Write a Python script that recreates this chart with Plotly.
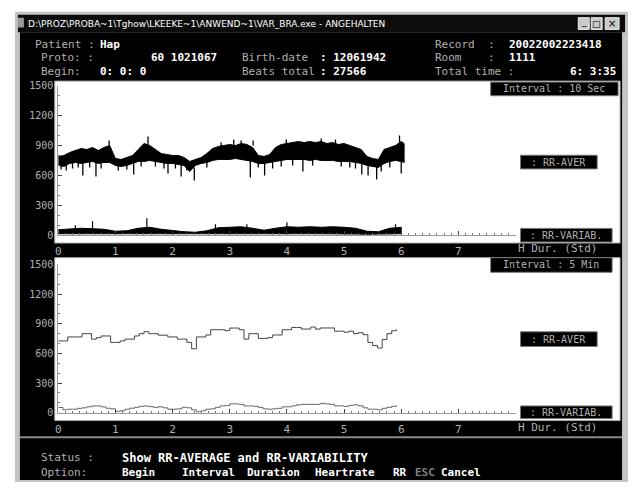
import plotly.graph_objects as go

W, H = 635, 489
def px(x): return x / W
def py(y): return 1 - y / H

# ---------------- data ----------------
hour_ticks = [0, 1, 2, 3, 4, 5, 6, 7]
hour_labels = ["0", "1", "2", "3", "4", "5", "6", "7"]
rr_ticks = [0, 300, 600, 900, 1200, 1500]
rr_labels = ["0", "300", "600", "900", "1200", "1500"]

# Top panel (10 s interval): envelope of RR-average, read every 0.1 h
band_t = [0.0, 0.1, 0.2, 0.3, 0.4, 0.5, 0.6, 0.7, 0.8, 0.9,
          1.0, 1.1, 1.2, 1.3, 1.4, 1.5, 1.6, 1.7, 1.8, 1.9,
          2.0, 2.1, 2.2, 2.3, 2.4, 2.5, 2.6, 2.7, 2.8, 2.9,
          3.0, 3.1, 3.2, 3.3, 3.4, 3.5, 3.6, 3.7, 3.8, 3.9,
          4.0, 4.1, 4.2, 4.3, 4.4, 4.5, 4.6, 4.7, 4.8, 4.9,
          5.0, 5.1, 5.2, 5.3, 5.4, 5.5, 5.6, 5.7, 5.8, 5.9, 6.0, 6.05]
avg_hi = [790, 800, 830, 850, 870, 860, 880, 850, 880, 900,
          770, 760, 780, 800, 860, 920, 900, 860, 820, 810,
          800, 800, 780, 740, 760, 780, 820, 870, 890, 900,
          910, 900, 920, 910, 880, 800, 790, 810, 880, 910,
          920, 930, 940, 930, 940, 930, 940, 920, 930, 910,
          920, 900, 880, 860, 790, 770, 760, 860, 880, 900, 940, 920]
avg_lo = [700, 690, 720, 730, 720, 730, 740, 720, 730, 730,
          700, 690, 700, 720, 740, 740, 750, 740, 730, 720,
          720, 710, 700, 640, 700, 720, 730, 750, 760, 760,
          760, 770, 760, 750, 740, 720, 720, 730, 740, 750,
          760, 760, 760, 760, 750, 760, 750, 750, 750, 740,
          740, 740, 730, 720, 700, 690, 680, 720, 740, 750, 740, 730]
# single beats leaving the band (time h, from, to)
spike_t = [0.05, 0.14, 0.25, 0.35, 0.43, 0.55, 0.66, 0.75, 0.89, 1.05, 1.20, 1.32,
           1.45, 1.57, 1.70, 1.85, 1.92, 2.05, 2.15, 2.25, 2.38, 2.60, 2.85, 3.07,
           3.20, 3.36, 3.41, 3.50, 3.61, 3.75, 3.90, 3.99, 4.10, 4.28, 4.45, 4.60,
           4.85, 4.95, 5.10, 5.20, 5.31, 5.42, 5.57, 5.65, 5.80, 5.97, 6.00]
spike_from = [720, 720, 740, 750, 740, 740, 740, 740, 880, 710, 710, 720,
              760, 900, 750, 740, 730, 730, 720, 710, 680, 740, 880, 890,
              900, 760, 900, 740, 740, 740, 760, 900, 770, 760, 770, 930,
              900, 760, 750, 740, 730, 720, 700, 700, 750, 920, 740]
spike_to = [660, 650, 670, 680, 600, 680, 590, 670, 950, 650, 660, 610,
            690, 990, 690, 670, 620, 670, 590, 650, 550, 680, 930, 960,
            950, 580, 950, 680, 600, 670, 690, 960, 700, 640, 700, 970,
            960, 690, 680, 670, 610, 600, 560, 640, 680, 1000, 620]

# Top panel: envelope of RR-variability, read every 0.2 h
var_t = [0.0, 0.2, 0.4, 0.6, 0.8, 1.0, 1.2, 1.4, 1.6, 1.8, 2.0, 2.2, 2.4, 2.6, 2.8, 3.0,
         3.2, 3.4, 3.6, 3.8, 4.0, 4.2, 4.4, 4.6, 4.8, 5.0, 5.2, 5.4, 5.6, 5.8, 6.0]
var_hi = [55, 60, 70, 65, 60, 40, 45, 70, 80, 60, 45, 35, 30, 45, 75, 80,
          85, 70, 50, 70, 85, 80, 85, 80, 85, 80, 70, 40, 35, 70, 80]
var_lo = [15, 10, 15, 15, 12, 10, 10, 15, 15, 12, 10, 8, 8, 10, 15, 15,
          15, 15, 12, 15, 15, 15, 15, 15, 15, 15, 12, 10, 8, 12, 15]
vspike_t = [0.30, 0.60, 1.55, 2.75, 3.30, 4.00, 5.90]
vspike_to = [100, 140, 170, 110, 110, 130, 110]

# Bottom panel (5 min interval)
interval_min = 5
avg_5min = [727, 727, 767, 767, 767, 800, 800, 745, 760, 777, 777, 712,
            712, 727, 745, 745, 777, 800, 820, 800, 800, 785, 785, 767,
            767, 745, 745, 712, 647, 767, 767, 787, 840, 840, 840, 830,
            857, 857, 840, 745, 800, 800, 752, 752, 760, 787, 787, 840,
            840, 863, 863, 847, 847, 867, 847, 858, 858, 858, 825, 825,
            815, 825, 800, 810, 790, 712, 680, 655, 740, 800, 830, 845]
var_5min = [53, 30, 36, 36, 45, 50, 60, 69, 69, 60, 46, 40,
            15, 20, 36, 46, 55, 65, 69, 62, 55, 60, 50, 36,
            36, 40, 55, 50, 30, 10, 20, 36, 40, 55, 69, 72,
            90, 90, 85, 69, 69, 65, 55, 40, 36, 40, 45, 60,
            60, 70, 80, 85, 85, 85, 85, 95, 90, 85, 70, 69,
            65, 75, 80, 70, 50, 36, 36, 30, 45, 55, 65, 75]

# ---------------- figure ----------------
fig = go.Figure()

fig.add_trace(go.Scatter(x=band_t + band_t[::-1], y=avg_hi + avg_lo[::-1],
                         fill="toself", fillcolor="#000", mode="lines",
                         line=dict(color="#000", width=1), xaxis="x", yaxis="y",
                         hoverinfo="skip"))
sx, sy = [], []
for t, a, b in zip(spike_t, spike_from, spike_to):
    sx += [t, t, None]
    sy += [a, b, None]
fig.add_trace(go.Scatter(x=sx, y=sy, mode="lines", line=dict(color="#000", width=1.3),
                         xaxis="x", yaxis="y", hoverinfo="skip"))
fig.add_trace(go.Scatter(x=var_t + var_t[::-1], y=var_hi + var_lo[::-1],
                         fill="toself", fillcolor="#000", mode="lines",
                         line=dict(color="#000", width=1), xaxis="x", yaxis="y",
                         hoverinfo="skip"))
vx, vy = [], []
for t, b in zip(vspike_t, vspike_to):
    vx += [t, t, None]
    vy += [20, b, None]
fig.add_trace(go.Scatter(x=vx, y=vy, mode="lines", line=dict(color="#000", width=1.2),
                         xaxis="x", yaxis="y", hoverinfo="skip"))

t5 = [i * interval_min / 60 for i in range(len(avg_5min))]
fig.add_trace(go.Scatter(x=t5, y=avg_5min, mode="lines", line=dict(color="#444", width=1, shape="hv"),
                         xaxis="x2", yaxis="y2", hoverinfo="skip"))
fig.add_trace(go.Scatter(x=t5, y=var_5min, mode="lines", line=dict(color="#666", width=1, shape="hv"),
                         xaxis="x2", yaxis="y2", hoverinfo="skip"))

MONO = "DejaVu Sans Mono"
GRAY = "#b0b0b0"
WHITE = "#ffffff"

def xax(anchor):
    return dict(domain=[px(55.5), px(515)], range=[0, 8], anchor=anchor,
                tickvals=hour_ticks, ticktext=hour_labels, showgrid=False, zeroline=False,
                showline=True, linecolor="#9a9a9a", linewidth=1,
                ticks="inside", ticklen=4, tickcolor="#444", tickwidth=1,
                minor=dict(dtick=0.125, ticks="inside", ticklen=2, tickcolor="#777"),
                tickfont=dict(family=MONO, size=11, color=GRAY), ticklabelstandoff=6,
                fixedrange=True)

def yax(anchor, y0, y1):
    return dict(domain=[py(y0), py(y1)], range=[0, 1500], anchor=anchor,
                tickvals=rr_ticks, ticktext=rr_labels, showgrid=False, zeroline=False,
                showline=True, linecolor="#9a9a9a", linewidth=1,
                ticks="inside", ticklen=4, tickcolor="#444",
                minor=dict(dtick=100, ticks="inside", ticklen=2, tickcolor="#777"),
                tickfont=dict(family=MONO, size=10, color=GRAY), ticklabelstandoff=2,
                fixedrange=True)

shapes = [
    dict(type="rect", xref="paper", yref="paper", x0=px(12), x1=px(628), y0=py(488), y1=py(6),
         fillcolor="#c4c4c4", line=dict(width=0), layer="below"),
    dict(type="rect", xref="paper", yref="paper", x0=px(15), x1=px(625), y0=py(27), y1=py(9),
         fillcolor="#0c0c0c", line=dict(width=0), layer="below"),
    dict(type="rect", xref="paper", yref="paper", x0=px(17), x1=px(622), y0=py(486), y1=py(27),
         fillcolor="#000", line=dict(width=0), layer="below"),
    dict(type="rect", xref="paper", yref="paper", x0=px(15), x1=px(21), y0=py(22), y1=py(12),
         fillcolor="#9a9a9a", line=dict(width=0), layer="below"),
    dict(type="rect", xref="paper", yref="paper", x0=px(52), x1=px(620), y0=py(243), y1=py(77),
         fillcolor="#fff", line=dict(color="#a8a8a8", width=1), layer="below"),
    dict(type="rect", xref="paper", yref="paper", x0=px(52), x1=px(620), y0=py(425), y1=py(258),
         fillcolor="#fff", line=dict(color="#a8a8a8", width=1), layer="below"),
    dict(type="line", xref="paper", yref="paper", x0=px(17), x1=px(622), y0=py(442), y1=py(442),
         line=dict(color="#8a8a8a", width=2)),
]
for bx0, bx1 in [(578, 589), (591, 602), (605, 619)]:
    shapes.append(dict(type="rect", xref="paper", yref="paper", x0=px(bx0), x1=px(bx1),
                       y0=py(24), y1=py(12), fillcolor="#c8c8c8",
                       line=dict(color="#eeeeee", width=1)))
boxes = [(490, 618, 78, 92), (490, 612, 258, 273),
         (520, 597, 153, 167), (520, 612, 228, 242),
         (520, 597, 334, 349), (520, 612, 410, 423)]
for x0, x1, y0, y1 in boxes:
    shapes.append(dict(type="rect", xref="paper", yref="paper", x0=px(x0), x1=px(x1),
                       y0=py(y1), y1=py(y0), fillcolor="#000",
                       line=dict(color="#777", width=1)))

ann = []
def txt(s, x, y, color=GRAY, size=11, bold=False, family=MONO, anchor="left"):
    ann.append(dict(text=("<b>%s</b>" % s) if bold else s, x=px(x), y=py(y), xref="paper", yref="paper",
                    xanchor=anchor, yanchor="middle", showarrow=False,
                    font=dict(family=family, size=size, color=color)))

txt("D:\\PROZ\\PROBA~1\\Tghow\\LKEEKE~1\\ANWEND~1\\VAR_BRA.exe - ANGEHALTEN", 23, 18,
    color=WHITE, size=9, family="DejaVu Sans")
txt("_", 583.5, 16, color="#000", size=9, family="DejaVu Sans", anchor="center")
txt("□", 596.5, 18, color="#000", size=9, family="DejaVu Sans", anchor="center")
txt("×", 612, 18, color="#000", size=10, family="DejaVu Sans", anchor="center")

txt("Patient :", 30, 39)
txt("Hap", 95, 39, WHITE, bold=True)
txt("Record  :", 432, 39)
txt("20022002223418", 506, 39, WHITE, bold=True)
txt("Proto: :", 36, 53)
txt("60 1021067", 147, 53, WHITE, bold=True)
txt("Birth-date", 238, 53)
txt(": 12061942", 316, 53, WHITE, bold=True)
txt("Room    :", 432, 53)
txt("1111", 506, 53, WHITE, bold=True)
txt("Begin:", 36, 67)
txt("0: 0: 0", 95, 67, WHITE, bold=True)
txt("Beats total", 238, 67)
txt(": 27566", 316, 67, WHITE, bold=True)
txt("Total time :", 432, 67)
txt("6: 3:35", 568, 67, WHITE, bold=True)

txt("Interval : 10 Sec", 554, 85, GRAY, size=10, anchor="center")
txt("Interval : 5 Min", 551, 265.5, GRAY, size=10, anchor="center")
txt(": RR-AVER", 558.5, 160, GRAY, size=10, anchor="center")
txt(": RR-VARIAB.", 566, 235, GRAY, size=10, anchor="center")
txt(": RR-AVER", 558.5, 341.5, GRAY, size=10, anchor="center")
txt(": RR-VARIAB.", 566, 416.5, GRAY, size=10, anchor="center")

for yy in (249, 432):
    ann.append(dict(text="H Dur. (Std)", x=8, xref="x", y=py(yy), yref="paper", xanchor="left",
                    yanchor="middle", showarrow=False,
                    font=dict(family=MONO, size=11, color=GRAY)))

txt("Status :", 36, 463)
txt("Show RR-AVERAGE and RR-VARIABILITY", 118, 463, WHITE, size=12, bold=True)
txt("Option:", 36, 478)
txt("Begin", 118, 478, WHITE, bold=True)
txt("Interval", 178, 478, WHITE, bold=True)
txt("Duration", 243, 478, WHITE, bold=True)
txt("Heartrate", 311, 478, WHITE, bold=True)
txt("RR", 390, 478, WHITE, bold=True)
txt("ESC", 412, 478, "#808080", bold=True)
txt("Cancel", 438, 478, WHITE, bold=True)

fig.update_layout(
    width=W, height=H, margin=dict(l=0, r=0, t=0, b=0),
    paper_bgcolor="#ffffff", plot_bgcolor="rgba(0,0,0,0)",
    showlegend=False,
    xaxis=xax("y"), yaxis=yax("x", 235, 81.7),
    xaxis2=xax("y2"), yaxis2=yax("x2", 417, 265),
    shapes=shapes, annotations=ann,
)

fig.write_html("out.html", config={"displayModeBar": False},
               post_script="document.body.style.margin='0';document.body.style.overflow='hidden';")
